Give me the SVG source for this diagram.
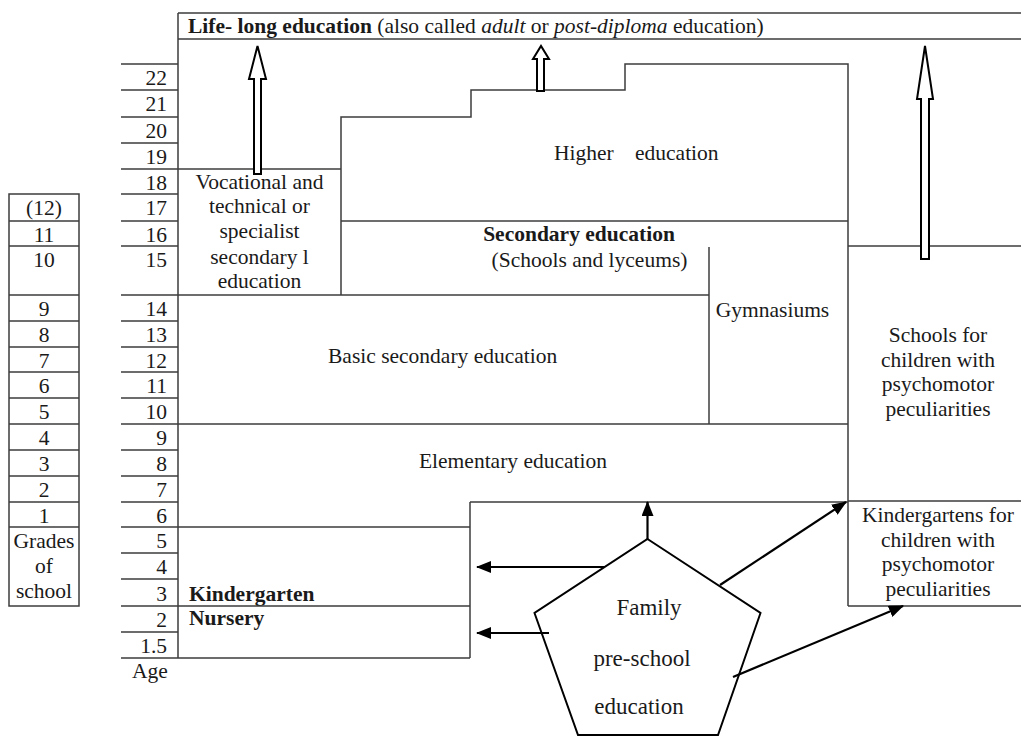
<svg xmlns="http://www.w3.org/2000/svg" width="1021" height="736" viewBox="0 0 1021 736">
<style>
  .ln { stroke:#3c3c3c; stroke-width:1.5; fill:none; }
  .t { font-family:"Liberation Serif","Times New Roman",serif; font-size:21.5px; fill:#1a1a1a; }
  .c { text-anchor:middle; }
  .r { text-anchor:end; }
  .b { font-weight:bold; }
  .i { font-style:italic; }
  .fam { font-family:"Liberation Serif","Times New Roman",serif; font-size:23px; fill:#1a1a1a; text-anchor:middle; }
  .hollow { fill:#fff; stroke:#000; stroke-width:2; stroke-linejoin:miter; }
  .arr { stroke:#000; stroke-width:2.2; fill:none; marker-end:url(#ah); }
</style>
<defs>
  <marker id="ah" markerUnits="userSpaceOnUse" markerWidth="16" markerHeight="12" refX="14" refY="6" orient="auto">
    <path d="M0,0 L15,6 L0,12 Z" fill="#000"/>
  </marker>
</defs>
<rect width="1021" height="736" fill="#fff"/>

<g id="grades">
  <rect class="ln" x="9" y="194" width="70" height="412"/>
  <path class="ln" d="M9,221H79M9,246H79M9,295H79M9,321H79M9,347H79M9,372H79M9,398H79M9,424H79M9,450H79M9,476H79M9,502H79M9,527H79"/>
  <g class="t c">
    <text x="44" y="215">(12)</text>
    <text x="44" y="242">11</text>
    <text x="44" y="267">10</text>
    <text x="44" y="316">9</text>
    <text x="44" y="342">8</text>
    <text x="44" y="368">7</text>
    <text x="44" y="393">6</text>
    <text x="44" y="419">5</text>
    <text x="44" y="445">4</text>
    <text x="44" y="471">3</text>
    <text x="44" y="497">2</text>
    <text x="44" y="523">1</text>
    <text x="44" y="548">Grades</text>
    <text x="44" y="573">of</text>
    <text x="44" y="598">school</text>
  </g>
</g>

<g id="ages">
  <path class="ln" d="M121,64H178M121,90H178M121,117H178M121,143H178M121,169H178M121,194H178M121,221H178M121,246H178M121,295H178M121,321H178M121,347H178M121,372H178M121,398H178M121,424H178M121,450H178M121,476H178M121,502H178M121,527H178M121,553H178M121,579H178M121,606H178M121,632H178M121,658H178"/>
  <g class="t r">
    <text x="167" y="85">22</text>
    <text x="167" y="111">21</text>
    <text x="167" y="138">20</text>
    <text x="167" y="164">19</text>
    <text x="167" y="190">18</text>
    <text x="167" y="215">17</text>
    <text x="167" y="242">16</text>
    <text x="167" y="267">15</text>
    <text x="167" y="316">14</text>
    <text x="167" y="342">13</text>
    <text x="167" y="368">12</text>
    <text x="167" y="393">11</text>
    <text x="167" y="419">10</text>
    <text x="167" y="445">9</text>
    <text x="167" y="471">8</text>
    <text x="167" y="497">7</text>
    <text x="167" y="523">6</text>
    <text x="167" y="548">5</text>
    <text x="167" y="574">4</text>
    <text x="167" y="601">3</text>
    <text x="167" y="627">2</text>
    <text x="167" y="653">1.5</text>
  </g>
  <text class="t c" x="150" y="678">Age</text>
</g>

<g id="lifelong">
  <path class="ln" d="M178,13H1021M178,39H1021M178,13V658"/>
  <text class="t" x="188" y="33"><tspan class="b">Life- long education</tspan> (also called <tspan class="i">adult</tspan> or <tspan class="i">post-diploma</tspan> education)</text>
</g>

<g id="vocational">
  <path class="ln" d="M178,169H341"/>
  <g class="t c">
    <text x="259.5" y="189">Vocational and</text>
    <text x="259.5" y="213">technical or</text>
    <text x="259.5" y="238">specialist</text>
    <text x="259.5" y="264">secondary l</text>
    <text x="259.5" y="288">education</text>
  </g>
</g>

<g id="higher">
  <path class="ln" d="M341,295V117H471V90H625V64H848V606"/>
  <text class="t" x="554" y="160">Higher</text>
  <text class="t" x="635" y="160">education</text>
</g>

<g id="secondary">
  <path class="ln" d="M341,221H848"/>
  <text class="t c b" x="579" y="241">Secondary education</text>
  <text class="t c" x="589.5" y="267">(Schools and lyceums)</text>
</g>

<g id="gymnasiums">
  <path class="ln" d="M709,247V424"/>
  <text class="t c" x="772.5" y="317">Gymnasiums</text>
</g>

<g id="basic">
  <path class="ln" d="M178,295H709"/>
  <text class="t" x="328" y="363">Basic secondary education</text>
</g>

<g id="elementary">
  <path class="ln" d="M178,424H848M178,527H470M470,502H848"/>
  <text class="t c" x="513" y="468">Elementary education</text>
</g>

<g id="kindergarten">
  <path class="ln" d="M470,502V658"/>
  <text class="t b" x="189" y="601">Kindergarten</text>
</g>

<g id="nursery">
  <path class="ln" d="M178,606H470M178,658H470"/>
  <text class="t b" x="189" y="625">Nursery</text>
</g>

<g id="special-schools">
  <path class="ln" d="M848,246H1021"/>
  <g class="t c">
    <text x="938" y="342">Schools for</text>
    <text x="938" y="367">children with</text>
    <text x="938" y="391">psychomotor</text>
    <text x="938" y="416">peculiarities</text>
  </g>
</g>

<g id="special-kindergartens">
  <path class="ln" d="M848,501H1021M848,606H1021"/>
  <g class="t c">
    <text x="938" y="522">Kindergartens for</text>
    <text x="938" y="547">children with</text>
    <text x="938" y="571">psychomotor</text>
    <text x="938" y="596">peculiarities</text>
  </g>
</g>

<g id="family">
  <polygon points="647.5,539 760.5,613 718,735 578,735 534.5,613" fill="#fff" stroke="#000" stroke-width="2"/>
  <text class="fam" x="649" y="615">Family</text>
  <text class="fam" x="642" y="666">pre-school</text>
  <text class="fam" x="639" y="714">education</text>
</g>

<g id="connectors">
  <polygon class="hollow" points="254,174 254,79 249,79 257.5,46 266,79 261,79 261,174"/>
  <polygon class="hollow" points="537,91 537,59 533,59 541,46 549,59 544,59 544,91"/>
  <polygon class="hollow" points="921,259 921,99 917,99 925,46 933,99 929,99 929,259"/>
  <line class="arr" x1="647.5" y1="539" x2="647.5" y2="502"/>
  <line class="arr" x1="605" y1="567" x2="477" y2="567"/>
  <line class="arr" x1="549" y1="633" x2="477" y2="633"/>
  <line class="arr" x1="720" y1="585" x2="846" y2="502"/>
  <line class="arr" x1="733" y1="677" x2="903" y2="606"/>
</g>
</svg>
